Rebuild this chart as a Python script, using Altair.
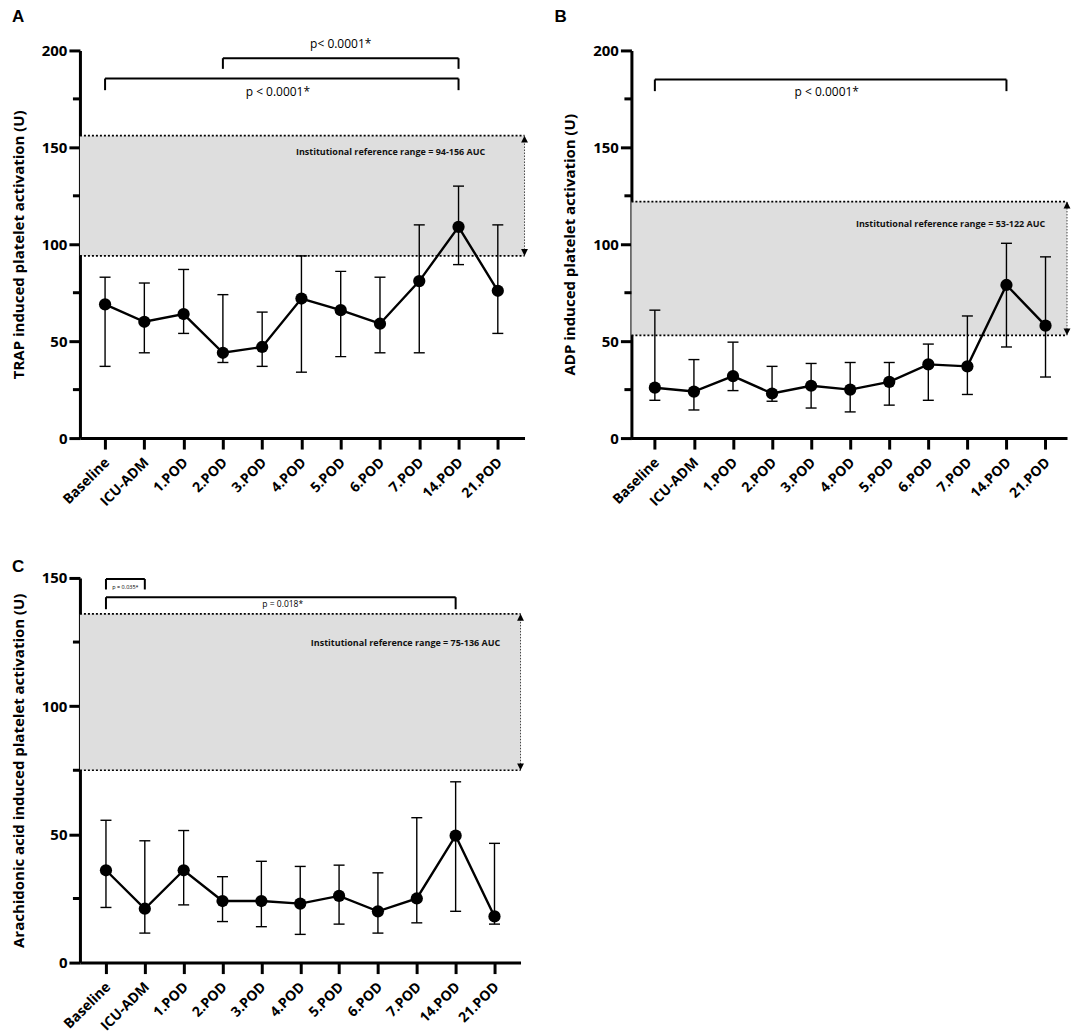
import json
import altair as alt
import pandas as pd

categories = ["Baseline", "ICU-ADM", "1.POD", "2.POD", "3.POD", "4.POD",
              "5.POD", "6.POD", "7.POD", "14.POD", "21.POD"]

# Panel A: TRAP
trap_median = [69, 60, 64, 44, 47, 72, 66, 59, 81, 109, 76]
trap_low = [37, 44, 54, 39, 37, 34, 42, 44, 44, 89.5, 54]
trap_high = [83, 80, 87, 74, 65, 94, 86, 83, 110, 130, 110]

# Panel B: ADP
adp_median = [26, 24, 32, 23, 27, 25, 29, 38, 37, 79, 58]
adp_low = [19.5, 14.5, 24.5, 19, 15.5, 13.5, 17, 19.5, 22.5, 47, 31.5]
adp_high = [66, 40.5, 49.5, 37, 38.5, 39, 39, 48.5, 63, 100.5, 93.5]

# Panel C: Arachidonic acid
aa_median = [36, 21, 36, 24, 24, 23, 26, 20, 25, 49.5, 18]
aa_low = [21.5, 11.5, 22.5, 16, 14, 11, 15, 11.5, 15.5, 20, 15]
aa_high = [55.5, 47.5, 51.5, 33.5, 39.5, 37.5, 38, 35, 56.5, 70.5, 46.5]

# reference ranges
trap_ref = [94, 156]
adp_ref = [53, 122]
aa_ref = [75, 136]
trap_ref_text = "Institutional reference range = 94-156 AUC"
adp_ref_text = "Institutional reference range = 53-122 AUC"
aa_ref_text = "Institutional reference range = 75-136 AUC"

# significance brackets: (from idx, to idx, level, drop-to)
trap_brackets = [(3, 9, 196, 190.5), (0, 9, 185.5, 179.5)]
adp_brackets = [(0, 9, 185, 179)]
aa_brackets = [(0, 1, 149.6, 145.5), (0, 9, 142.5, 137.8)]

# p-value labels: (text, x idx, y value, font size)
trap_ptexts = [("p< 0.0001*", 6.0, 203.2, 12), ("p < 0.0001*", 4.4, 178.8, 12)]
adp_ptexts = [("p < 0.0001*", 4.4, 178.6, 12)]
aa_ptexts = [("p = 0.035*", 0.5, 146.6, 5.5), ("p = 0.018*", 4.55, 139.8, 8.5)]

FONT = "Open Sans"
LABELS_EXPR = f"{json.dumps(categories)}[datum.value]"


def panel(letter, letter_x, letter_y, median, low, high, ref, ref_text,
          ref_text_x, ref_text_y, brackets, ptexts, ytitle, ymax, yticks, minor,
          width, height, xdom):
    n = len(categories)
    df = pd.DataFrame({"idx": list(range(n)), "cat": categories,
                       "median": median, "low": low, "high": high})
    xs = alt.Scale(domain=xdom, nice=False, zero=False)
    ys = alt.Scale(domain=[0, ymax], nice=False, zero=True)
    xaxis = alt.Axis(values=list(range(n)), labelExpr=LABELS_EXPR, title=None,
                     labelAngle=-45, labelAlign="right", labelBaseline="top",
                     labelFontSize=14, labelPadding=6, labelOffset=-3,
                     labelFlush=False, labelOverlap=False)
    yaxis = alt.Axis(values=yticks, title=ytitle, labelFlush=False,
                     labelPadding=2, titlePadding=15)

    def X(f):
        return alt.X(f, type="quantitative", scale=xs, axis=xaxis)

    def Y(f):
        return alt.Y(f, type="quantitative", scale=ys, axis=yaxis)

    refdf = pd.DataFrame({"lo": [ref[0]], "hi": [ref[1]]})
    refl = pd.DataFrame({"v": ref})

    band = alt.Chart(refdf).mark_rect(color="#dedede").encode(
        x=alt.value(0), x2=alt.value(width), y=Y("lo"), y2="hi")
    dots = alt.Chart(refl).mark_rule(strokeDash=[2, 2], strokeWidth=1.7,
                                     color="black").encode(
        x=alt.value(0), x2=alt.value(width), y=Y("v"))
    arrow = alt.Chart(refdf).mark_rule(strokeDash=[1.5, 1.5], strokeWidth=1,
                                       color="#444").encode(
        x=alt.value(width), y=Y("lo"), y2="hi")
    up = alt.Chart(refdf).mark_point(shape="M0,0L-0.6,1.2L0.6,1.2Z", filled=True,
                                     color="black", size=130, opacity=1).encode(
        x=alt.value(width), y=Y("hi"))
    down = alt.Chart(refdf).mark_point(shape="M0,0L-0.6,-1.2L0.6,-1.2Z", filled=True,
                                       color="black", size=130, opacity=1).encode(
        x=alt.value(width), y=Y("lo"))
    reftxt = alt.Chart(pd.DataFrame({"t": [ref_text], "x": [ref_text_x], "y": [ref_text_y]})
                       ).mark_text(font=FONT, fontSize=9, fontWeight="bold",
                                   color="#111", align="center",
                                   baseline="middle").encode(
        x=X("x"), y=Y("y"), text="t")

    err = alt.Chart(df).mark_rule(strokeWidth=1.4, color="black").encode(
        x=X("idx"), y=Y("low"), y2="high")
    cap_lo = alt.Chart(df).mark_tick(orient="horizontal", size=11, thickness=1.4,
                                     color="black", opacity=1).encode(
        x=X("idx"), y=Y("low"))
    cap_hi = alt.Chart(df).mark_tick(orient="horizontal", size=11, thickness=1.4,
                                     color="black", opacity=1).encode(
        x=X("idx"), y=Y("high"))
    line = alt.Chart(df).mark_line(color="black", strokeWidth=2.4).encode(
        x=X("idx"), y=Y("median"))
    pts = alt.Chart(df).mark_circle(color="black", size=150, opacity=1).encode(
        x=X("idx"), y=Y("median"))

    mdf = pd.DataFrame({"m": minor})
    minor_ticks = alt.Chart(mdf).mark_rule(color="black", strokeWidth=3).encode(
        x=alt.value(-7), x2=alt.value(0), y=Y("m"))

    bdf = pd.DataFrame(brackets, columns=["x1", "x2", "y", "yd"])
    bh = alt.Chart(bdf).mark_rule(color="black", strokeWidth=2).encode(
        x=X("x1"), x2="x2", y=Y("y"))
    bl = alt.Chart(bdf).mark_rule(color="black", strokeWidth=2).encode(
        x=X("x1"), y=Y("y"), y2="yd")
    br = alt.Chart(bdf).mark_rule(color="black", strokeWidth=2).encode(
        x=X("x2"), y=Y("y"), y2="yd")

    pdf = pd.DataFrame(ptexts, columns=["t", "x", "y", "fs"])
    ptxt = alt.Chart(pdf).mark_text(font=FONT, color="black", baseline="middle",
                                    align="center").encode(
        x=X("x"), y=Y("y"), text="t", size=alt.Size("fs:Q", scale=None, legend=None))

    lab = alt.Chart(pd.DataFrame({"t": [letter]})).mark_text(
        font="Liberation Sans", fontSize=17, fontWeight="bold", align="left",
        baseline="top", color="black").encode(
        x=alt.value(letter_x), y=alt.value(letter_y), text="t")

    return alt.layer(band, dots, arrow, up, down, reftxt, err, cap_lo, cap_hi,
                     line, pts, minor_ticks, bh, bl, br, ptxt, lab
                     ).properties(width=width, height=height)


A = panel("A", -68, -41, trap_median, trap_low, trap_high, trap_ref, trap_ref_text,
          7.27, 147.7, trap_brackets, trap_ptexts,
          "TRAP induced platelet activation (U)",
          200, [0, 50, 100, 150, 200], [25, 75, 125, 175], 445, 388, [-0.64, 10.68])
B = panel("B", -77, -41, adp_median, adp_low, adp_high, adp_ref, adp_ref_text,
          7.57, 110.3, adp_brackets, adp_ptexts,
          "ADP induced platelet activation (U)",
          200, [0, 50, 100, 150, 200], [25, 75, 125, 175], 436, 388, [-0.6, 10.55])
C = panel("C", -68, -19, aa_median, aa_low, aa_high, aa_ref, aa_ref_text,
          7.71, 124.5, aa_brackets, aa_ptexts,
          "Arachidonic acid induced platelet activation (U)",
          150, [0, 50, 100, 150], [25, 75, 125], 441, 385, [-0.67, 10.67])

chart = alt.vconcat(
    alt.hconcat(A, B, spacing=26),
    C, spacing=49
).properties(
    padding={"left": 3, "top": 0, "right": 5, "bottom": 0}
).configure_view(strokeOpacity=0).configure_axis(
    domainColor="black", domainWidth=3, tickColor="black", tickWidth=3,
    tickSize=11, labelFont=FONT, labelFontSize=15, labelFontWeight="bold",
    labelColor="black", titleFont=FONT, titleFontSize=15,
    titleFontWeight="bold", titleColor="black", grid=False
)

chart.save("out.html", embed_options={"renderer": "svg", "actions": False})
